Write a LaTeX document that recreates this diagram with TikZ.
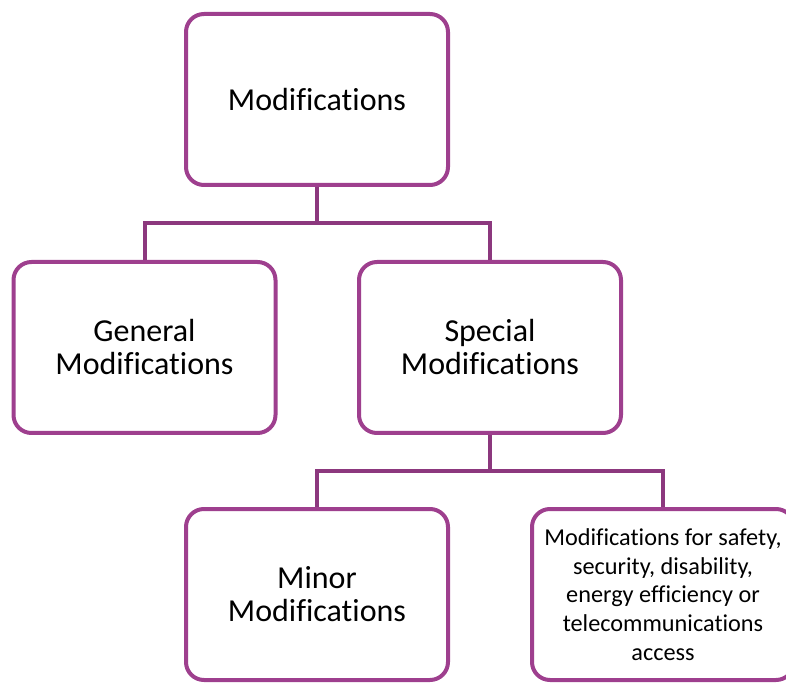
\documentclass[tikz,border=0pt]{standalone}
\usepackage{fontspec}
\setmainfont{Carlito}[Ligatures=NoCommon]
\definecolor{plum}{RGB}{158,63,142}
\definecolor{plumdark}{RGB}{140,56,126}
\tikzset{
    modbox/.style={draw=plum, line width=3pt, rounded corners=13.5pt, fill=white,
        minimum width=196.5pt, minimum height=128.25pt, align=center, inner sep=2pt,
        font=\fontsize{24pt}{24.75pt}\selectfont},
    smallbox/.style={modbox, font=\fontsize{18.2pt}{21.5pt}\selectfont},
    link/.style={draw=plumdark, line width=3pt}
}
\begin{document}
\begin{tikzpicture}[x=0.75pt, y=-0.75pt]
    \useasboundingbox (0,0) rectangle (786,684);
    % boxes
    \node[modbox] (top) at (317,99.5) {Modifications};
    \node[modbox] (general) at (144.5,347.5) {General\\Modifications};
    \node[modbox] (special) at (490,347.5) {Special\\Modifications};
    \node[modbox] (minor) at (317,594.5) {Minor\\Modifications};
    \node[smallbox] (access) at (663,594.5) {Modifications for safety,\\security, disability,\\energy efficiency or\\telecommunications\\access};
    % connectors
    \coordinate (j1) at (317,223);
    \coordinate (j2) at (490,471);
    \draw[link] (top.south) -- (j1);
    \draw[link] (general.north) |- (j1) -| (special.north);
    \draw[link] (special.south) -- (j2);
    \draw[link] (minor.north) |- (j2) -| (access.north);
\end{tikzpicture}
\end{document}
